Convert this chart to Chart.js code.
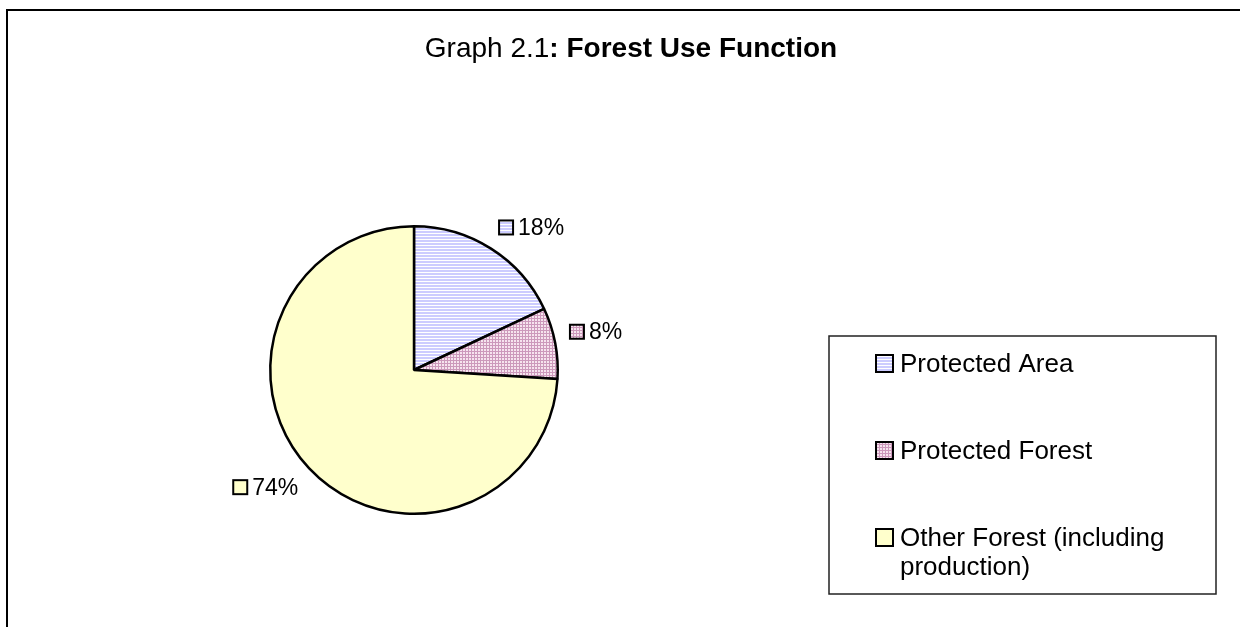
<!DOCTYPE html>
<html>
<head>
<meta charset="utf-8">
<title>Forest Use Function</title>
<script src="https://cdn.jsdelivr.net/npm/chart.js@4.4.0/dist/chart.umd.min.js"></script>
<style>
  html, body { margin: 0; padding: 0; background: #fff; overflow: hidden; }
  #wrap { position: relative; width: 1240px; height: 627px; }
</style>
</head>
<body>
<div id="wrap"><canvas id="forestChart" width="1240" height="627"></canvas></div>
<script>
const categories = ['Protected Area', 'Protected Forest', 'Other Forest (including production)'];
const shares = [18, 8, 74];
const valueLabels = ['18%', '8%', '74%'];
const titleParts = ['Graph 2.1', ': Forest Use Function'];

const FONT = '"Liberation Sans", Arial, sans-serif';

function makePattern(w, h, draw) {
  const c = document.createElement('canvas');
  c.width = w;
  c.height = h;
  const g = c.getContext('2d');
  draw(g);
  return g.createPattern(c, 'repeat');
}

// Excel-style fills: lavender stripes, pink grid, plain light yellow
const stripes = makePattern(1, 3, g => {
  g.fillStyle = '#ffffff'; g.fillRect(0, 0, 1, 3);
  g.fillStyle = '#ccccff'; g.fillRect(0, 0, 1, 2);
});
const grid = makePattern(3, 3, g => {
  g.fillStyle = '#f6e4ee'; g.fillRect(0, 0, 3, 3);
  g.fillStyle = '#cc99bb'; g.fillRect(0, 0, 3, 1); g.fillRect(0, 0, 1, 3);
});
const fills = [stripes, grid, '#ffffcc'];

function swatch(ctx, x, y, size, fill) {
  ctx.fillStyle = fill;
  ctx.fillRect(x, y, size, size);
  ctx.lineWidth = 2;
  ctx.strokeStyle = '#000';
  ctx.strokeRect(x, y, size, size);
}

const framePlugin = {
  id: 'frame',
  beforeDraw(chart) {
    const ctx = chart.ctx;
    ctx.save();
    ctx.fillStyle = '#fff';
    ctx.fillRect(0, 0, chart.width, chart.height);
    ctx.fillStyle = '#000';
    ctx.fillRect(6, 9, 2, chart.height - 9);
    ctx.fillRect(6, 9, chart.width - 6, 2);
    ctx.restore();
  }
};

const titlePlugin = {
  id: 'mixedTitle',
  afterDraw(chart) {
    const ctx = chart.ctx;
    ctx.save();
    const normal = '28px ' + FONT;
    const bold = 'bold 28px ' + FONT;
    ctx.font = normal;
    const w1 = ctx.measureText(titleParts[0]).width;
    ctx.font = bold;
    const w2 = ctx.measureText(titleParts[1]).width;
    const x0 = 631 - (w1 + w2) / 2;
    ctx.fillStyle = '#000';
    ctx.textBaseline = 'alphabetic';
    ctx.font = normal;
    ctx.fillText(titleParts[0], x0, 57);
    ctx.font = bold;
    ctx.fillText(titleParts[1], x0 + w1, 57);
    ctx.restore();
  }
};

// label box sits outside the slice, its nearest corner on a ring just past the edge
const sliceLabelPlugin = {
  id: 'sliceLabels',
  afterDatasetsDraw(chart) {
    const ctx = chart.ctx;
    const meta = chart.getDatasetMeta(0);
    ctx.save();
    ctx.font = '23px ' + FONT;
    ctx.textBaseline = 'middle';
    meta.data.forEach((arc, i) => {
      const p = arc.getProps(['x', 'y', 'startAngle', 'endAngle', 'outerRadius'], true);
      const mid = (p.startAngle + p.endAngle) / 2;
      const ux = Math.cos(mid), uy = Math.sin(mid);
      const key = 14, gap = 5;
      const tw = ctx.measureText(valueLabels[i]).width;
      const bw = key + gap + tw, bh = 17;
      const r = p.outerRadius + 15;
      const px = p.x + r * ux, py = p.y + r * uy;
      const left = ux >= 0 ? px : px - bw;
      const top = uy >= 0 ? py : py - bh;
      const cy = top + bh / 2;
      swatch(ctx, left, cy - key / 2, key, fills[i]);
      ctx.fillStyle = '#000';
      ctx.fillText(valueLabels[i], left + key + gap, cy + 1);
    });
    ctx.restore();
  }
};

function wrapText(ctx, text, maxWidth) {
  const words = text.split(' ');
  const lines = [];
  let line = '';
  words.forEach(w => {
    const test = line ? line + ' ' + w : w;
    if (ctx.measureText(test).width > maxWidth && line) {
      lines.push(line);
      line = w;
    } else {
      line = test;
    }
  });
  lines.push(line);
  return lines;
}

const legendPlugin = {
  id: 'boxLegend',
  afterDraw(chart) {
    const ctx = chart.ctx;
    ctx.save();
    ctx.lineWidth = 1.5;
    ctx.strokeStyle = '#222';
    ctx.strokeRect(829, 336, 387, 258);
    ctx.font = '26px ' + FONT;
    ctx.textBaseline = 'middle';
    let y = 364;
    categories.forEach((label, i) => {
      swatch(ctx, 876, y - 9, 17, fills[i]);
      ctx.fillStyle = '#000';
      const lines = wrapText(ctx, label, 300);
      lines.forEach((ln, j) => {
        ctx.fillText(ln, 900, y + 1 + j * 29);
      });
      y += 87 + (lines.length - 1) * 29;
    });
    ctx.restore();
  }
};

new Chart(document.getElementById('forestChart'), {
  type: 'pie',
  data: {
    labels: categories,
    datasets: [{
      data: shares,
      backgroundColor: fills,
      borderColor: '#000',
      borderWidth: 2.5
    }]
  },
  options: {
    responsive: false,
    animation: false,
    devicePixelRatio: 1,
    events: [],
    layout: {
      padding: { left: 269, right: 681, top: 225, bottom: 112 }
    },
    plugins: {
      legend: { display: false },
      title: { display: false },
      tooltip: { enabled: false }
    }
  },
  plugins: [framePlugin, sliceLabelPlugin, titlePlugin, legendPlugin]
});
</script>
</body>
</html>
